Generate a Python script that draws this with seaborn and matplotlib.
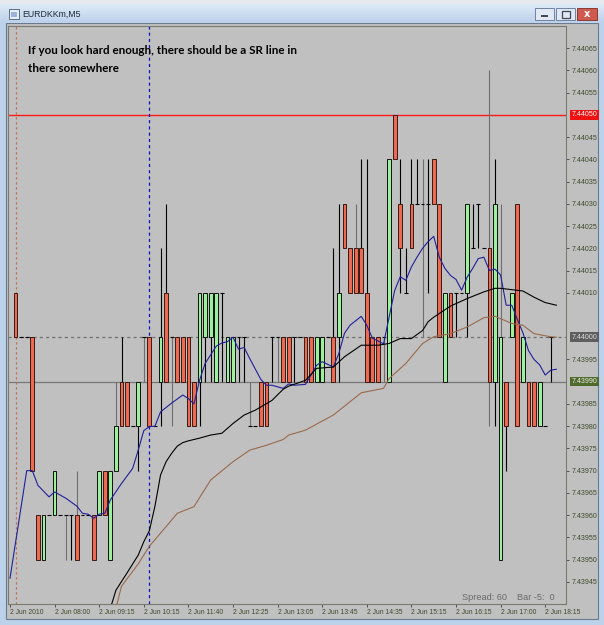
import numpy as np
import pandas as pd
import matplotlib
matplotlib.use("Agg")
import matplotlib.pyplot as plt
import matplotlib.transforms as mtrans
from matplotlib.patches import Rectangle
import seaborn as sns

# ---------------- data (price levels in boxes of 0.0001 around 7.44000) ----------------
BASE = 7.44000
STEP = 0.0001

candle_idx = list(range(1, 98))
open_b = [1, 0, 0, 0, -4, -5, -4, -4, -4, -4, -4, -4, -4, -4, -4, -4, -3, -5, -3, -1,
          -1, -2, -2, 0, 0, -2, -1, 1, 0, 0, 0, 0, -1, -1, 0, 0, -1, 1, -1, -1,
          0, 0, -2, -2, -1, -1, 0, 0, 0, 0, 0, 0, 0, 0, -1, -1, 0, 0, 0, 3,
          2, 2, 2, 1, 0, 0, 0, -1, 5, 3, 1, 3, 3, 3, 3, 4, 3, -1, 1, 1,
          1, 1, 2, 3, 2, 2, -1, -5, -1, 0, 3, -1, -1, -1, -2, -2, 0]
high_b = [1, 0, 0, 0, -4, -4, -4, -3, -4, -4, -4, -3, -4, -4, -4, -3, -3, -3, -1, 0,
          -1, -2, -1, 0, 0, -2, 2, 3, 0, 0, 0, 0, -1, 1, 1, 1, 1, 1, 0, 0,
          0, 0, -1, -2, -1, -1, 0, 0, 0, 0, 0, 0, 0, 0, 0, 0, 0, 2, 3, 3,
          2, 3, 4, 4, 0, 0, 0, 4, 5, 4, 2, 4, 4, 4, 4, 4, 3, 1, 1, 1,
          1, 3, 3, 3, 2, 6, 4, 3, -1, 1, 3, 0, -1, -1, -1, -2, 0]
low_b = [0, 0, 0, -3, -5, -5, -4, -4, -4, -5, -5, -5, -4, -4, -5, -4, -4, -5, -3, -2,
         -2, -2, -3, -1, -2, -2, -2, -1, -2, -1, -1, -2, -2, -2, -1, -1, -1, -1, -1, -1,
         -1, -1, -2, -2, -2, -2, -1, -1, -1, -1, -1, 0, -1, -1, -1, -1, 0, -1, -1, 2,
         1, 1, 1, -1, -1, -1, -1, -1, 4, 1, 1, 2, 3, 0, 1, 3, 0, -1, 0, 0,
         1, 0, 2, 2, 2, -2, -2, -5, -3, 0, -2, -1, -2, -2, -2, -2, -1]
close_b = [0, 0, 0, -3, -5, -4, -4, -3, -4, -4, -4, -5, -4, -4, -5, -3, -4, -3, -2, -2,
           -2, -2, -1, 0, -2, -2, 0, -1, 0, -1, -1, -2, -2, 1, 1, 1, 1, 1, 0, 0,
           0, 0, -2, -2, -2, -2, 0, 0, -1, -1, 0, 0, -1, -1, 0, 0, 0, -1, 1, 2,
           1, 1, 1, -1, -1, -1, 0, 4, 4, 2, 1, 2, 3, 3, 3, 3, 0, 1, 0, 1,
           1, 3, 2, 3, 2, -1, 3, 0, -2, 1, -2, 0, -2, -2, -1, -2, 0]
gray_line_idx = [10, 12, 19, 24, 29, 43, 48, 62, 67, 74, 86, 88]

# moving averages (candle index, level in boxes)
fast_x = [0, 3, 4, 5, 7, 8, 10, 12, 13, 14, 15, 16, 17, 18, 20, 22, 23, 24, 25, 26,
          27, 29, 31, 32, 33, 34, 35, 37, 38, 39, 40, 41, 42, 43, 45, 46, 47, 49, 50, 51,
          53, 55, 56, 58, 59, 60, 61, 63, 64, 65, 67, 68, 69, 70, 71, 72, 73, 74, 75, 76,
          77, 78, 79, 80, 81, 82, 83, 84, 85, 86, 87, 88, 89, 90, 91, 92, 93, 94, 95, 96, 97, 98]
fast_v = [-5.42, -3.0, -3.0, -3.33, -3.59, -3.48, -3.62, -3.8, -3.96, -3.98, -4.07, -3.98, -3.96, -3.66, -3.29, -2.95, -2.54, -2.1, -2.01, -2.0,
          -1.68, -1.48, -1.3, -1.38, -1.5, -0.97, -0.59, -0.2, -0.13, -0.1, 0.0, -0.27, -0.23, -0.48, -0.95, -1.08, -1.08, -1.15, -1.05, -1.08,
          -1.06, -0.63, -0.55, -0.67, -0.36, 0.09, 0.27, 0.47, 0.27, -0.02, -0.15, 0.45, 1.05, 1.36, 1.28, 1.58, 1.8, 2.0, 2.15, 2.27,
          1.8, 1.55, 1.39, 1.3, 1.06, 1.35, 1.55, 1.77, 1.8, 1.5, 1.53, 1.4, 0.72, 0.72, 0.4, 0.1, -0.3, -0.5, -0.62, -0.85, -0.74, -0.72]
mid_x = [18, 19, 21, 23, 24, 25, 26, 27, 28, 29, 30, 31, 32, 34, 36, 38, 40, 42, 44, 47,
         49, 50, 53, 55, 58, 60, 63, 66, 68, 70, 72, 74, 75, 76, 79, 82, 85, 87, 88, 90,
         92, 94, 96, 98]
mid_v = [-6.1, -5.69, -5.3, -4.9, -4.6, -4.35, -3.8, -3.1, -2.8, -2.61, -2.45, -2.37, -2.33, -2.27, -2.2, -2.16, -1.94, -1.75, -1.64, -1.42,
         -1.17, -1.1, -0.97, -0.7, -0.67, -0.44, -0.18, -0.18, -0.14, -0.03, -0.03, 0.15, 0.35, 0.45, 0.7, 0.87, 1.02, 1.1, 1.1, 1.07,
         1.04, 0.9, 0.78, 0.72]
slow_x = [19, 20, 23, 25, 28, 30, 33, 36, 40, 43, 46, 49, 50, 53, 58, 63, 67, 68, 71, 73,
          74, 76, 79, 82, 85, 87, 90, 92, 94, 97, 98]
slow_v = [-6.1, -5.6, -5.1, -4.7, -4.26, -3.96, -3.81, -3.21, -2.8, -2.54, -2.43, -2.3, -2.2, -2.09, -1.75, -1.25, -1.15, -0.93, -0.59, -0.29,
          -0.14, 0.01, 0.08, 0.23, 0.44, 0.47, 0.31, 0.27, 0.08, 0.01, 0.0]

x_tick_idx = [0, 8, 16, 24, 32, 40, 48, 56, 64, 72, 80, 88, 96]
x_tick_labels = ["2 Jun 2010", "2 Jun 08:00", "2 Jun 09:15", "2 Jun 10:15", "2 Jun 11:40",
                 "2 Jun 12:25", "2 Jun 13:05", "2 Jun 13:45", "2 Jun 14:35", "2 Jun 15:15",
                 "2 Jun 16:15", "2 Jun 17:00", "2 Jun 18:15"]
y_tick_prices = [7.43945, 7.43950, 7.43955, 7.43960, 7.43965, 7.43970, 7.43975, 7.43980,
                 7.43985, 7.43995, 7.44010, 7.44015, 7.44020, 7.44025, 7.44030, 7.44035,
                 7.44040, 7.44045, 7.44055, 7.44060, 7.44065]
sr_price = 7.44050
bid_price = 7.43990
mark_price = 7.44000
vline_idx = [1, 25]

title = "EURDKKm,M5"
note_lines = ["If you look hard enough, there should be a SR line in", "there somewhere"]
spread_text = "Spread: 60"
bar_text = "Bar -5:  0"

# ---------------- figure / window chrome ----------------
W, H = 604, 625
fig = plt.figure(figsize=(W / 100, H / 100), dpi=100)
fig.patch.set_facecolor("#bcd2ea")

def frect(x0, y0, x1, y1, z=-5, **kw):
    fig.patches.append(Rectangle((x0 / W, 1 - y1 / H), (x1 - x0) / W, (y1 - y0) / H,
                                 transform=fig.transFigure, figure=fig, zorder=z, **kw))

frect(0, 0, 604, 4, facecolor="#e6e9ee", edgecolor="none")
tb = fig.add_axes([0, 1 - 23 / H, 1, 19 / H], zorder=-3)
grad = np.linspace(0, 1, 20)[:, None]
top_c = np.array([0.87, 0.92, 0.97])
bot_c = np.array([0.74, 0.82, 0.92])
img = (top_c * (1 - grad[..., None]) + bot_c * grad[..., None]) * np.ones((1, 10, 1))
tb.imshow(img, aspect="auto", extent=[0, 1, 0, 1])
tb.set_axis_off()

frect(9, 9, 19, 19, z=5, facecolor="#e8eef6", edgecolor="#5a6a88", linewidth=0.7)
frect(11, 12, 17, 17, z=6, facecolor="#9ab4d8", edgecolor="none")
frect(535, 8, 554, 20, z=5, facecolor="#dfe8f3", edgecolor="#6f82a0", linewidth=0.7)
frect(541, 15, 548, 16.5, z=6, facecolor="#404858", edgecolor="none")
frect(556, 8, 575, 20, z=5, facecolor="#dfe8f3", edgecolor="#6f82a0", linewidth=0.7)
frect(561.5, 11.5, 569.5, 17.5, z=6, facecolor="none", edgecolor="#404858", linewidth=0.9)
frect(577, 8, 597, 20, z=5, facecolor="#cf5a4e", edgecolor="#8a3a32", linewidth=0.7)
fig.text(587 / W, 1 - 14 / H, "x", color="white", fontsize=7, fontweight="bold",
         ha="center", va="center", family="DejaVu Sans", zorder=7)
fig.text(22 / W, 1 - 14.5 / H, title, fontsize=6.3, color="#1e2a3a",
         ha="left", va="center", family="Liberation Sans", zorder=7)

frect(6, 23, 598, 619, z=-4, facecolor="#c0c0c0", edgecolor="#6c7a8c", linewidth=0.8)

# ---------------- chart axes ----------------
ax_l, ax_r, ax_t, ax_b = 8, 566, 26, 604
ax = fig.add_axes([ax_l / W, 1 - ax_b / H, (ax_r - ax_l) / W, (ax_b - ax_t) / H], zorder=1)
ax.set_facecolor("#c0c0c0")

to_price = lambda b: BASE + np.asarray(b, dtype=float) * STEP

# reference lines
ax.axhline(sr_price, color="#ff1a1a", lw=1.0, zorder=1)
ax.axhline(mark_price, color="#707070", lw=0.9, ls=(0, (2.5, 2.5)), zorder=1)
ax.axhline(bid_price, color="#787878", lw=0.9, zorder=1)
ax.axvline(vline_idx[0], color="#c07050", lw=0.9, ls=(0, (1.8, 2.2)), zorder=1)
ax.axvline(vline_idx[1], color="#1010c0", lw=0.9, ls=(0, (2.5, 2.5)), zorder=1)

# candles
bw = 0.68
o = to_price(open_b); h = to_price(high_b); l = to_price(low_b); c = to_price(close_b)
xi = np.array(candle_idx)
for k in range(len(xi)):
    x = xi[k]
    lc = "#6e6e6e" if x in gray_line_idx else "#000000"
    if h[k] > l[k] + 1e-9:
        ax.vlines(x, l[k], h[k], color=lc, lw=0.8, zorder=2)
    if abs(c[k] - o[k]) < 1e-9:
        ax.hlines(o[k], x - bw / 2, x + bw / 2, color="#000000", lw=0.8, zorder=3)
    else:
        up = c[k] > o[k]
        ax.bar(x, abs(c[k] - o[k]), bottom=min(o[k], c[k]), width=bw,
               color="#9cf09c" if up else "#ec6a52",
               edgecolor="#101010" if up else "#3a1a14", linewidth=0.7, zorder=3)

# moving averages via seaborn
ma = pd.concat([
    pd.DataFrame({"idx": fast_x, "price": to_price(fast_v), "ma": "fast"}),
    pd.DataFrame({"idx": mid_x, "price": to_price(mid_v), "ma": "mid"}),
    pd.DataFrame({"idx": slow_x, "price": to_price(slow_v), "ma": "slow"}),
])
palette = {"fast": "#20209a", "mid": "#000000", "slow": "#9a6a4c"}
sns.lineplot(data=ma, x="idx", y="price", hue="ma", palette=palette, ax=ax,
             estimator=None, sort=False, linewidth=0.8, legend=False, zorder=4)

# limits
xmin = (ax_l - 10) / 5.575
xmax = (ax_r - 10) / 5.575
ax.set_xlim(xmin, xmax)
ax.set_ylim(7.43940, 7.44070)
ax.set_xlabel("")
ax.set_ylabel("")

for s in ax.spines.values():
    s.set_color("#7a7a72")
    s.set_linewidth(0.8)

tick_col = "#3e4a2c"
ax.set_xticks(x_tick_idx)
ax.set_xticklabels(x_tick_labels, fontsize=4.9, color=tick_col, family="Liberation Sans", ha="left")
ax.tick_params(axis="x", direction="out", length=2.5, width=0.7, color="#505050", pad=1.2)
ax.yaxis.tick_right()
ax.set_yticks(y_tick_prices)
ax.set_yticklabels([f"{p:.5f}" for p in y_tick_prices], fontsize=5.1, color=tick_col,
                   family="Liberation Sans")
ax.tick_params(axis="y", direction="out", length=2.5, width=0.7, color="#505050", pad=1.3)

# highlighted price labels
tr = mtrans.blended_transform_factory(ax.transAxes, ax.transData)
for p, fc, tc in [(sr_price, "#f01010", "#ffffff"), (mark_price, "#5e5e5e", "#dcdcdc"),
                  (bid_price, "#4f6a2a", "#f0f0f0")]:
    ax.text(1.0 + 5.5 / (ax_r - ax_l), p, f"{p:.5f}", transform=tr, fontsize=5.1,
            color=tc, family="Liberation Sans", ha="left", va="center", clip_on=False,
            bbox=dict(boxstyle="square,pad=0.18", fc=fc, ec="none"))

# annotations
fig.text(28 / W, 1 - 50 / H, note_lines[0], fontsize=8.4, fontweight="bold",
         family="Lato", color="#000000", ha="left", va="center", zorder=7)
fig.text(28 / W, 1 - 68 / H, note_lines[1], fontsize=8.4, fontweight="bold",
         family="Lato", color="#000000", ha="left", va="center", zorder=7)
fig.text(462 / W, 1 - 598 / H, spread_text, fontsize=6.6, color="#6a6a6a",
         family="Liberation Sans", ha="left", va="center", zorder=7)
fig.text(517 / W, 1 - 598 / H, bar_text, fontsize=6.6, color="#6a6a6a",
         family="Liberation Sans", ha="left", va="center", zorder=7)

fig.savefig("out.png", dpi=100, facecolor=fig.get_facecolor())
